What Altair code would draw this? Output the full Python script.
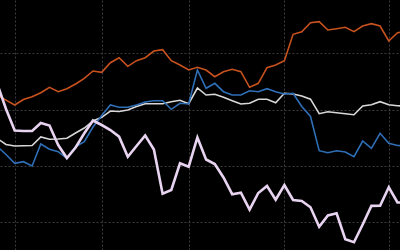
import altair as alt
import pandas as pd

# pixel-derived readings (value = 250 - screen y)
orange_y = [95.2, 100.1, 105, 99.5, 96.7, 92.7, 87.3, 91.7, 88.7, 84, 78.3, 71, 72.3, 62.7, 57.7, 66.3,
            60.7, 57.7, 51, 49.7, 60.7, 65, 70, 67.3, 70, 76.7, 71.7, 69.3, 71.7, 87.3, 83.3, 67.7,
            65, 60.7, 34.3, 31.7, 22.7, 21.7, 30, 28.7, 27.3, 31.7, 26, 23.7, 26, 41, 32.7, 31.5]
blue_y = [146.5, 154.5, 163.3, 161.7, 166, 144, 149.3, 151.7, 158.3, 146.7, 141.7, 127, 115.5, 105, 107.3, 107.3,
          105, 102, 100.7, 100.7, 109.3, 103.3, 104, 70, 88.3, 83.3, 91.7, 95, 95, 90.7, 91.7, 88.7,
          91.7, 94, 93.3, 106.5, 116.5, 150.7, 152.7, 150.7, 152, 156.7, 141, 148.3, 133.3, 143.3, 145.5, 146]
white_y = [138.5, 144.5, 146, 145.7, 145.5, 137, 139.2, 139, 138.3, 133, 128, 121, 117.3, 111, 111.5, 110,
           106.5, 103.7, 103.7, 103.7, 101.7, 100.3, 103.7, 88, 95, 94.3, 97.3, 100.7, 104, 103.3, 99.3, 99.3,
           102.7, 93.3, 94, 96, 99.2, 113.7, 111.7, 112.7, 113.7, 114.7, 106, 104.7, 101.7, 104.7, 105.8, 106]
pink_y = [84, 109, 130.5, 131, 131, 123, 125.5, 145, 158, 147.5, 133.3, 120.5, 125, 130, 136.7, 156.7,
          146, 135.5, 149.5, 193.7, 190, 163.3, 166.7, 137.5, 159.5, 164, 177.5, 194.2, 192.7, 209.7, 193, 186,
          199.7, 185, 200, 201, 207.3, 226.7, 215.5, 213.3, 239.2, 242.2, 224.5, 205.9, 205.8, 187.3, 202.5, 202.5]

series = {"white": white_y, "blue": blue_y, "orange": orange_y, "pink": pink_y}
colors = {"white": "#d8d8d8", "blue": "#2f6fb8", "orange": "#c8521e", "pink": "#e8d4f0"}
widths = {"white": 1.6, "blue": 1.6, "orange": 1.6, "pink": 2.6}
x_grid = [2, 12, 22, 33, 45]
y_grid = [28, 84, 140, 197]

grid_axis = dict(labels=False, ticks=False, domain=False, title=None,
                 grid=True, gridColor="#3c3c3c", gridDash=[2, 2], gridWidth=1)
X = alt.X("i:Q", scale=alt.Scale(domain=[0.31, 46.29], nice=False, zero=False),
          axis=alt.Axis(values=x_grid, **grid_axis))
Y = alt.Y("v:Q", scale=alt.Scale(domain=[0, 250], nice=False, zero=False),
          axis=alt.Axis(values=y_grid, **grid_axis))

layers = []
for name, vals in series.items():
    df = pd.DataFrame({"i": list(range(len(vals))), "v": [250 - y for y in vals]})
    layers.append(alt.Chart(df).mark_line(color=colors[name], strokeWidth=widths[name], clip=True)
                  .encode(x=X, y=Y))

chart = alt.layer(*layers).properties(
    width=400, height=250, background="#000000", padding=0,
    autosize=alt.AutoSizeParams(type="none")
).configure_view(stroke=None)

chart.save("out.html", embed_options={"renderer": "svg", "actions": False})
